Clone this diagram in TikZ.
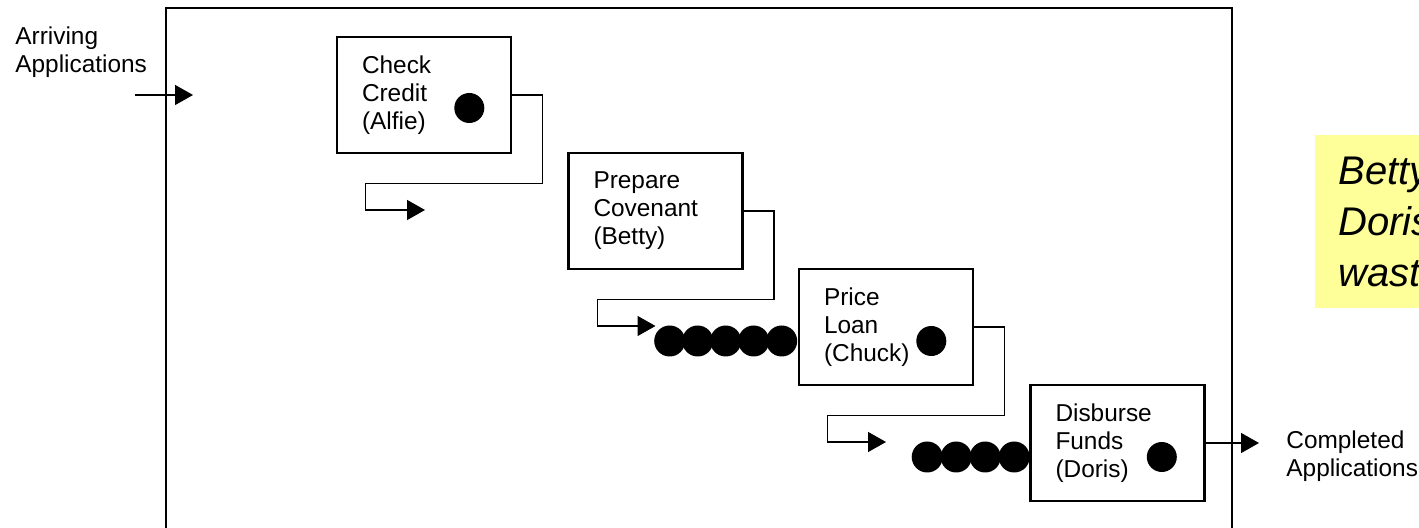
\documentclass[tikz,border=0pt]{standalone}
\usepackage{fontspec}
\setmainfont{Liberation Sans}
\usetikzlibrary{arrows.meta,calc,backgrounds}
\definecolor{notefill}{HTML}{FFFF99}
\tikzset{
  stage/.style={draw, line width=1.3pt, fill=white, minimum width=87pt,
    minimum height=58pt, text width=62pt, inner xsep=12.5pt, inner ysep=0pt,
    align=left, font=\fontsize{12.2}{14}\selectfont},
  busy/.style={circle, fill=black, inner sep=0pt, minimum size=15pt},
  waiting/.style={circle, fill=black, inner sep=0pt, minimum size=15.5pt},
  flow/.style={line width=0.7pt, -{Triangle[length=9pt,width=10pt]}},
  sidetext/.style={inner sep=0pt, align=left, font=\fontsize{12.2}{14}\selectfont},
  notetext/.style={inner sep=0pt, align=left, font=\fontsize{20}{25.5}\selectfont\itshape},
}
\begin{document}
\begin{tikzpicture}[x=0.5pt,y=-0.5pt]
  \useasboundingbox (0,0) rectangle (1419,528);
  \clip (0,0) rectangle (1419,528);

  % system boundary
  \draw[line width=1.3pt] (166,8) rectangle (1232,560);

  % process stages
  \node[stage] (b1) at (424,95)     {Check\\Credit\\(Alfie)};
  \node[stage] (b2) at (655.5,211)  {Prepare\\Covenant\\(Betty)};
  \node[stage] (b3) at (886,327)    {Price\\Loan\\(Chuck)};
  \node[stage] (b4) at (1117.5,443) {Disburse\\Funds\\(Doris)};

  % work in progress inside the stages
  \node[busy] (w1) at ($(b1.east)+(-43,13)$) {};
  \node[busy] (w3) at ($(b3.east)+(-43,14)$) {};
  \node[busy] (w4) at ($(b4.east)+(-44,14)$) {};

  % queues waiting in front of stages
  \begin{pgfonlayer}{background}
    \foreach \i in {0,...,4}
      \node[waiting] (qa\i) at ($(b3.west)+(-16-28*\i,14)$) {};
    \foreach \i in {0,...,3}
      \node[waiting] (qb\i) at ($(b4.west)+(-15-29*\i,14)$) {};
  \end{pgfonlayer}

  % hand-offs between stages
  \coordinate (t1) at ($(b1.center)+(1,115)$);
  \coordinate (t2) at ($(b2.center)+(0,115)$);
  \coordinate (t3) at ($(b3.center)+(0,115)$);
  \draw[flow] (b1.east) -- ++(30,0) |- ($(b1.south west)+(30,29)$) |- (t1);
  \draw[flow] (b2.east) -- ++(30,0) |- ($(b2.south west)+(30,29)$) |- (t2);
  \draw[flow] (b3.east) -- ++(30,0) |- ($(b3.south west)+(30,29)$) |- (t3);

  % input and output
  \coordinate (src) at (135,95);
  \coordinate (entry) at (193,95);
  \draw[flow] (src) -- (entry);
  \coordinate (exit) at (1259,443);
  \draw[flow] (b4.east) -- (exit);

  \node[sidetext, anchor=north west] (arriving) at (15,26) {Arriving\\Applications};
  \node[sidetext, anchor=north west] (completed) at (1286,430) {Completed\\Applications};

  % side note
  \fill[notefill] (1315,135) rectangle (1440,308);
  \node[notetext, anchor=north west] (note) at (1338,157) {Betty\\Doris\\wasting};
\end{tikzpicture}
\end{document}
